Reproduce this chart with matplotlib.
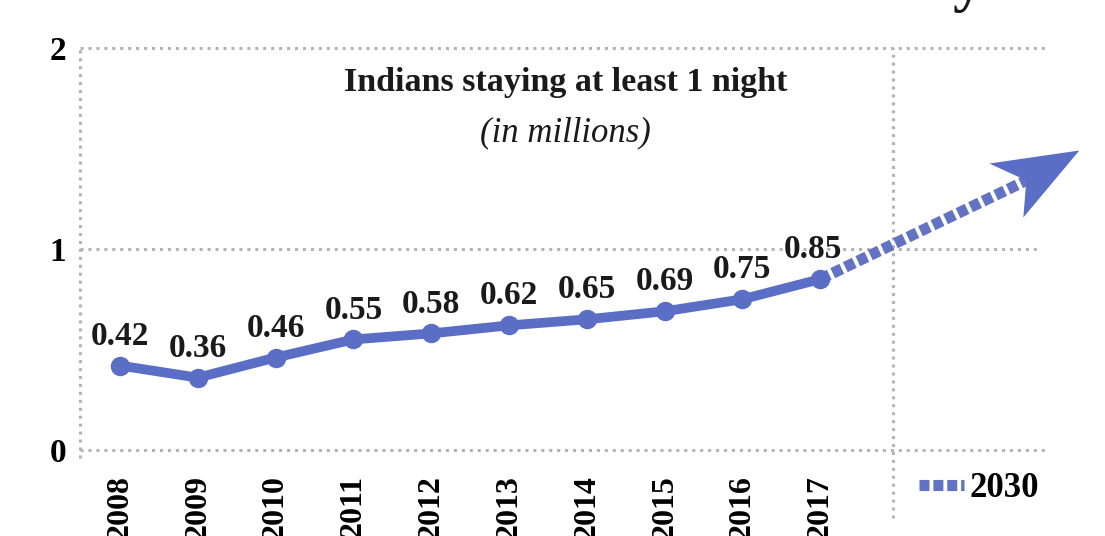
import matplotlib.pyplot as plt
import matplotlib.transforms as mtransforms
from matplotlib.lines import Line2D
from matplotlib.patches import Polygon

years = ['2008', '2009', '2010', '2011', '2012', '2013', '2014', '2015', '2016', '2017']
visitors = [0.42, 0.36, 0.46, 0.55, 0.58, 0.62, 0.65, 0.69, 0.75, 0.85]
# projection towards 2030: from the 2017 point to the arrow tip
trend_x = [9, 12.33]
trend_y = [0.85, 1.49]

blue = '#5a6ec6'
dot_blue = '#6273c4'
grid_c = '#b4b4b4'
serif = ['Liberation Serif', 'DejaVu Serif']

fig = plt.figure(figsize=(11.05, 5.36), dpi=100)
ax = fig.add_axes([80/1105, 86/536, 1025/1105, 402/536])
x = list(range(len(years)))
ax.set_xlim(-0.514, 12.66)
ax.set_ylim(0, 2)
for s in ax.spines.values():
    s.set_visible(False)

# dotted gridlines and frame
dot = (0, (1, 1.6))
for yv, xr in [(0, 11.9), (1, 11.8), (2, 11.9)]:
    ax.plot([-0.514, xr], [yv, yv], color=grid_c, lw=2.2, ls=dot, clip_on=False, zorder=1)
ax.plot([-0.514, -0.514], [-0.04, 2], color=grid_c, lw=2.2, ls=dot, clip_on=False, zorder=1)
ax.plot([9.94, 9.94], [-0.34, 2], color=grid_c, lw=2.2, ls=dot, clip_on=False, zorder=1)

# main series
ax.plot(x, visitors, color=blue, lw=7, marker='o', ms=13, mfc=blue, mec=blue,
        solid_capstyle='round', zorder=3)
for i, v in enumerate(visitors):
    dx = -5 if i == len(visitors) - 1 else 0
    ax.annotate(f'{v:.2f}', (i, v), xytext=(dx, 10), textcoords='offset points',
                ha='center', va='bottom', fontsize=24, fontweight='bold',
                family=serif, color='#1a1a1a')

# dotted projection line, ending in the notch of the arrowhead
tip = mtransforms.ScaledTranslation(trend_x[1], trend_y[1], ax.transData)
head_t = fig.dpi_scale_trans + tip
notch = (-0.53, -0.30)
p1 = head_t.transform(notch)
nx, ny = ax.transData.inverted().transform(p1)
ax.plot([trend_x[0], nx], [trend_y[0], ny], color=dot_blue, lw=8,
        ls=(0, (0.9, 0.35)), dash_capstyle='butt', clip_on=False, zorder=2)
head = Polygon([(0, 0), (-0.90, -0.13), notch, (-0.56, -0.67)], closed=True,
               transform=head_t, facecolor=blue, edgecolor='none', clip_on=False, zorder=2)
ax.add_patch(head)

ax.set_yticks([0, 1, 2])
ax.set_yticklabels(['0', '1', '2'], fontsize=24, fontweight='bold', family=serif)
ax.set_xticks(x)
ax.set_xticklabels(years, rotation=90, fontsize=23, fontweight='bold', family=serif, va='top')
ax.tick_params(length=0)
ax.tick_params(axis='y', pad=10)
ax.tick_params(axis='x', pad=18)

ax.text(0.474, 0.915, 'Indians staying at least 1 night', transform=ax.transAxes,
        ha='center', va='center', fontsize=24.5, fontweight='bold', family=serif, color='#1a1a1a')
ax.text(0.474, 0.789, '(in millions)', transform=ax.transAxes, ha='center', va='center',
        fontsize=25, style='italic', family=serif, color='#1a1a1a')

h = Line2D([0], [0], color=dot_blue, lw=8, ls=(0, (0.9, 0.35)), dash_capstyle='butt')
ax.legend([h], ['2030'], loc='center left', bbox_to_anchor=(808/1025, -0.095),
          frameon=False, handlelength=1.3, handletextpad=0.15,
          prop=dict(family=serif, weight='bold', size=25))

# tail of the headline above the chart
fig.text(968/1105, 1.0, 'y', fontsize=44, ha='center', va='baseline',
         family=serif, fontweight='bold', color='#1a1a1a')

fig.savefig('out.png', dpi=100)
